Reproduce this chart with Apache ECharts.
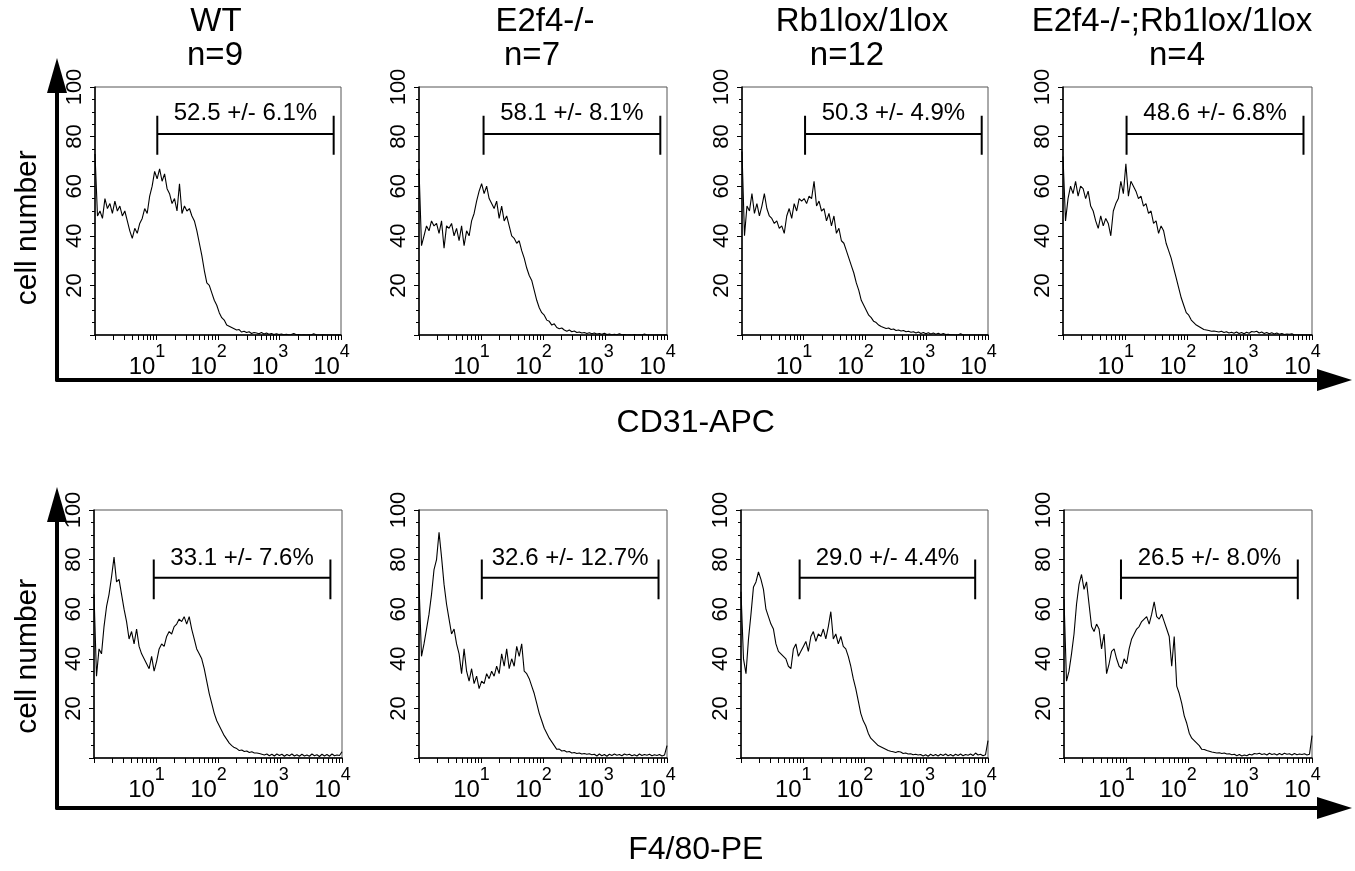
<!DOCTYPE html>
<html><head><meta charset="utf-8">
<script src="https://cdn.jsdelivr.net/npm/echarts@6/dist/echarts.min.js"></script>
<style>html,body{margin:0;padding:0;background:#fff}#c{width:1355px;height:871px}</style>
</head><body><div id="c"></div>
<script>
// ---------------- data ----------------
const genotypes = ['WT', 'E2f4-/-', 'Rb1lox/1lox', 'E2f4-/-;Rb1lox/1lox'];
const sampleSizes = ['n=9', 'n=7', 'n=12', 'n=4'];
const markers = ['CD31-APC', 'F4/80-PE'];
const yAxisTitle = 'cell number';
const gateLabelsCD31 = ['52.5 +/- 6.1%', '58.1 +/- 8.1%', '50.3 +/- 4.9%', '48.6 +/- 6.8%'];
const gateLabelsF480 = ['33.1 +/- 7.6%', '32.6 +/- 12.7%', '29.0 +/- 4.4%', '26.5 +/- 8.0%'];
const gateStartCD31 = [10.3, 11, 10.6, 10.5];
const gateEndCD31 = [7600, 7800, 7900, 7300];
const gateStartF480 = [9.2, 10.3, 8.9, 8.3];
const gateEndF480 = [6500, 7300, 6200, 5900];
const gateBarY = [81, 72.7];
const gateTickLow = [72.7, 64];
const gateTickHigh = [88.4, 80];
const gateTextY = [89.5, 80.5];
const xTickLabels = [10, 100, 1000, 10000];
const yTickLabels = [20, 40, 60, 80, 100];

// histogram counts per channel (100 channels spanning 10^0 .. 10^4)
const cd31WT = [
 73,48,50,47,55,51,53,49,54,50,
 52,48,50,46,42,39,43,41,45,47,
 51,49,56,60,66,63,67,62,65,59,
 57,53,55,50,61,49,52,50,51,48,
 46,42,37,32,26,21,20,17,14,12,
 9,7,6,4,3.5,3,2.5,2,2.2,1.2,
 1.5,1,1.3,0.6,1,0.8,0.5,1,0.4,0.8,
 0.3,0.6,0.2,0.5,0.2,0.4,0.1,0.3,0.1,0.2,
 0.6,0.1,0.2,0,0.1,0,0.1,0,0.5,0.1,
 0,0,0.1,0,0,0,0,0,0,0];
const cd31E2f4 = [
 67,36,40,44,42,46,44,45,41,46,
 35,44,43,45,40,43,38,44,36,42,
 40,46,49,54,58,61,57,60,55,53,
 51,54,47,52,46,48,44,40,39,37,
 38,34,31,27,24,22,18,14,11,9,
 8,6,5.5,4,4.5,3,2.5,2.8,2,1.5,
 2,1.3,1.6,1,1.2,0.8,1,0.6,0.9,0.5,
 0.8,0.4,0.6,0.3,0.7,0.2,0.4,0.1,0.3,0.1,
 0.5,0.1,0.2,0,0.1,0,0.2,0,0.1,0,
 0.4,0,0,0,0,0,0,0,0,0];
const cd31Rb1 = [
 74,40,52,50,57,49,53,48,52,57,
 51,48,47,45,46,43,44,41,48,51,
 47,53,50,55,54,55,53,56,55,62,
 52,54,50,51,46,49,44,48,41,43,
 38,37,34,31,28,25,21,18,14,12,
 10,8,7,5.5,5,4,3.4,3,2.6,2.8,
 2.2,2.4,1.8,2,1.6,1.8,1.3,1.5,1.1,1.3,
 0.8,1.2,0.6,1,0.5,0.9,0.4,0.8,0.3,0.7,
 0.2,0.6,0.2,0.3,0.1,0.1,0,0.1,0.5,0,
 0,0,0,0,0,0,0,0,0,0];
const cd31Dko = [
 72,46,55,60,57,62,56,60,59,55,
 58,52,50,46,43,48,44,47,45,40,
 50,53,55,62,57,69,56,62,60,58,
 55,56,52,53,49,50,45,46,41,44,
 42,37,34,31,27,23,19,15,12,9,
 8,6,5,4,3.4,2.8,2.2,2,1.8,1.5,
 1.6,1.4,1.2,1.5,1,1.3,0.8,1.1,0.7,1.2,
 0.6,1,0.5,1.1,0.7,1.4,1.2,1.5,0.8,1.2,
 0.6,1,0.5,0.9,0.4,0.8,0.3,0.6,0.2,0.4,
 0.3,0.5,0,0,0,0,0,0,0,0];
const f480WT = [
 66,33,44,42,53,61,66,73,81,71,
 72,66,60,55,48,51,46,52,45,42,
 40,38,36,41,35,39,44,46,45,49,
 51,50,53,54,56,55,57,54,57,52,
 48,44,42,40,36,31,26,22,18,15,
 13,11,9,7.5,6,5,4.2,3.8,3,3.2,
 2.6,2.8,2.2,2.5,2,2,1.8,1.5,1.2,1.6,
 0.9,1.5,0.8,1.6,1,1.5,0.7,1.4,0.9,1.6,
 0.8,1.3,0.7,1.5,0.8,1.2,0.7,1.6,0.9,1.3,
 0.6,1.5,0.8,1.4,0.7,1.6,0.9,1.2,1.0,2.5];
const f480E2f4 = [
 70,41,46,52,58,66,76,80,91,81,
 70,62,56,50,52,46,42,34,44,35,
 31,36,30,33,28,31,30,34,32,35,
 33,37,34,42,37,44,36,40,37,45,
 41,46,35,34,32,29,26,22,18,15,
 12,10,8,6.5,5,3.5,3.6,2.8,3,2.4,
 2.6,2,2.2,1.8,2,1.6,1.8,1.5,1.7,1.3,
 1.5,0.8,1.6,0.9,1.4,0.7,1.5,1,1.6,1.1,
 1.4,0.9,1.6,1.2,1.5,0.9,1.3,0.8,1.6,1,
 1.4,1.1,1.5,0.9,1.3,1,1.4,0.8,1.2,5];
const f480Rb1 = [
 67,40,34,48,58,69,71,75,72,68,
 60,57,54,52,46,43,42,41,40,37,
 36,44,46,41,43,45,47,43,49,51,
 47,50,49,52,48,53,59,48,50,46,
 49,45,44,41,37,32,28,23,18,15,
 13,10,8,7,6,5,4.5,4,3.5,3,
 2.7,2.5,2.2,2.6,2.4,1.8,2,1.6,1.7,1.3,
 1.5,1.2,1.4,0.8,1.3,0.7,1.5,0.9,1.4,0.8,
 1.5,1,1.6,0.9,1.4,0.8,1.5,1,1.6,0.9,
 1.4,1.1,1.6,1,2,1.2,1.5,0.9,1.3,7];
const f480Dko = [
 64,31,35,42,50,62,70,74,68,71,
 62,53,51,54,52,44,50,34,38,43,
 44,40,37,36,40,38,44,48,50,52,
 53,55,56,57,54,58,63,57,56,58,
 55,52,49,37,49,29,26,22,17,14,
 10,8,7,6,5,3.5,3.4,3,2.7,2.4,
 2.2,2,2.1,1.8,2,1.6,1.7,1.3,1.5,0.9,
 1.4,0.8,1.2,0.9,1.5,1.2,1.8,1.6,1.9,1.4,
 1.7,1.2,1.9,1.4,1.7,1.2,1.8,1.3,1.9,1.5,
 1.7,1.2,1.8,1.3,1.6,1.4,1.7,1.2,1.5,9];

// ---------------- build ----------------
const histograms = [cd31WT, cd31E2f4, cd31Rb1, cd31Dko, f480WT, f480E2f4, f480Rb1, f480Dko];
const channels = cd31WT.map((_, i) => i);
const logTicks = [];
[1, 10, 100, 1000].forEach(d => { for (let m = 1; m <= 9; m++) logTicks.push(m * d); });
logTicks.push(10000);

const FONT = '"Liberation Sans", Arial, Helvetica, sans-serif';
const layout = {
  rowTop: [87, 510], rowHeight: 248,
  left: [[95, 419, 742, 1063], [94, 419, 741, 1064]],
  width: [[246, 248, 246, 249], [248, 248, 247, 248]]
};

const grid = [], xAxis = [], yAxis = [], series = [];
for (let g = 0; g < 8; g++) {
  const r = Math.floor(g / 4), c = g % 4;
  grid.push({left: layout.left[r][c], top: layout.rowTop[r], width: layout.width[r][c], height: layout.rowHeight,
    show: true, borderColor: '#555', borderWidth: 1, backgroundColor: 'transparent'});
  xAxis.push({gridIndex: g, type: 'category', data: channels, boundaryGap: false, show: false});
  xAxis.push({gridIndex: g, type: 'log', logBase: 10, min: 1, max: 10000, position: 'bottom',
    axisLine: {show: true, onZero: false, lineStyle: {color: '#000', width: 1.5}},
    axisTick: {show: true, inside: false, length: 5, customValues: logTicks, lineStyle: {color: '#000', width: 1}},
    minorTick: {show: false}, splitLine: {show: false},
    axisLabel: {show: true, customValues: xTickLabels, margin: 8, padding: [0, 19, 0, 0], fontSize: 24,
      formatter: v => '{b|10}{s|' + Math.round(Math.log10(v)) + '}',
      rich: {b: {fontSize: 24, lineHeight: 36, verticalAlign: 'bottom', color: '#000', fontFamily: FONT},
             s: {fontSize: 18, lineHeight: 12, verticalAlign: 'top', color: '#000', fontFamily: FONT}}}
  });
  yAxis.push({gridIndex: g, type: 'value', min: 0, max: 100, interval: 20,
    axisLine: {show: true, lineStyle: {color: '#000', width: 1.5}},
    axisTick: {show: true, length: 5, lineStyle: {color: '#000', width: 1}},
    minorTick: {show: true, splitNumber: 4, length: 3, lineStyle: {color: '#000', width: 1}},
    splitLine: {show: false},
    axisLabel: {show: true, rotate: 90, margin: 9, fontSize: 22, color: '#000', fontFamily: FONT,
      formatter: v => (yTickLabels.indexOf(v) >= 0 ? String(v) : '')}
  });
  series.push({type: 'line', xAxisIndex: 2 * g, yAxisIndex: g, data: histograms[g], symbol: 'none',
    lineStyle: {color: '#000', width: 1.1}, silent: true, animation: false});
  const g0 = r === 0 ? gateStartCD31[c] : gateStartF480[c];
  const g1 = r === 0 ? gateEndCD31[c] : gateEndF480[c];
  const lbl = r === 0 ? gateLabelsCD31[c] : gateLabelsF480[c];
  series.push({type: 'line', xAxisIndex: 2 * g + 1, yAxisIndex: g, symbol: 'none', silent: true, animation: false,
    data: [[g0, gateTickLow[r]], [g0, gateTickHigh[r]], [g0, gateBarY[r]], [g1, gateBarY[r]], [g1, gateTickHigh[r]], [g1, gateTickLow[r]]],
    lineStyle: {color: '#000', width: 2}});
  series.push({type: 'scatter', xAxisIndex: 2 * g + 1, yAxisIndex: g, symbolSize: 1, silent: true, animation: false,
    itemStyle: {color: 'transparent', opacity: 1},
    data: [[Math.sqrt(g0 * g1), gateTextY[r]]],
    label: {show: true, position: 'inside', formatter: lbl, fontSize: 24, color: '#000', opacity: 1,
      textBorderWidth: 0, textBorderColor: 'transparent', fontFamily: FONT}});
}
// outer arrow frames
const outer = [{top: 75.5, height: 304.5, gap: 27}, {top: 504.5, height: 303.5, gap: 26}];
outer.forEach((o, r) => {
  const gi = grid.length;
  grid.push({left: 57, top: o.top, width: 1277.5, height: o.height, show: false});
  xAxis.push({gridIndex: gi, type: 'value', min: 0, max: 1,
    axisLine: {show: true, onZero: false, symbol: ['none', 'triangle'], symbolSize: [22, 35], lineStyle: {color: '#000', width: 4}},
    axisTick: {show: false}, axisLabel: {show: false}, splitLine: {show: false},
    name: markers[r], nameLocation: 'middle', nameGap: o.gap,
    nameTextStyle: {fontSize: 32, color: '#000', fontFamily: FONT}});
  yAxis.push({gridIndex: gi, type: 'value', min: 0, max: 1,
    axisLine: {show: true, onZero: false, symbol: ['none', 'triangle'], symbolSize: [20, 35], lineStyle: {color: '#000', width: 4}},
    axisTick: {show: false}, axisLabel: {show: false}, splitLine: {show: false},
    name: yAxisTitle, nameLocation: 'middle', nameGap: 14,
    nameTextStyle: {fontSize: 30, color: '#000', fontFamily: FONT}});
});

const titleX1 = [216, 545, 862, 1172], titleX2 = [215, 532, 847, 1177];
const graphic = [];
genotypes.forEach((t, c) => {
  graphic.push({type: 'text', x: titleX1[c], y: 22, style: {text: t, align: 'center', verticalAlign: 'middle', font: '33px ' + FONT, fill: '#000'}});
  graphic.push({type: 'text', x: titleX2[c], y: 56, style: {text: sampleSizes[c], align: 'center', verticalAlign: 'middle', font: '33px ' + FONT, fill: '#000'}});
});

const chart = echarts.init(document.getElementById('c'), null, {renderer: 'canvas'});
chart.setOption({backgroundColor: '#fff', animation: false, grid, xAxis, yAxis, series, graphic});
</script>
</body></html>
